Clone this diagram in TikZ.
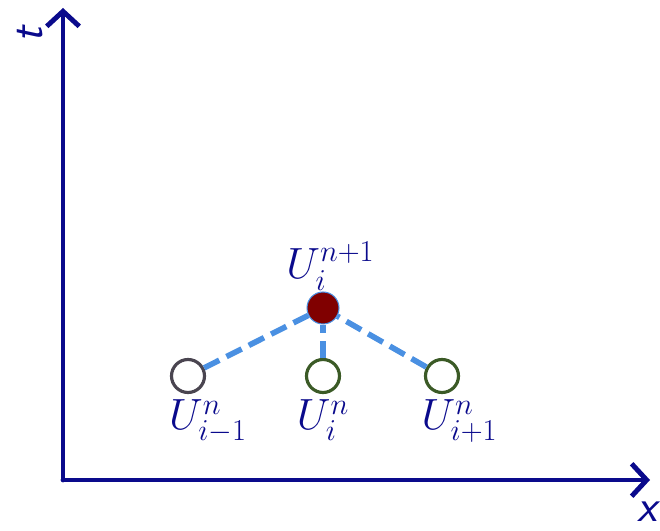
\documentclass[tikz,border=0pt]{standalone}
\usepackage{amsmath}
\usetikzlibrary{arrows.meta,
                positioning}
\definecolor{axisblue}{HTML}{0A0A8C}
\definecolor{dashblue}{HTML}{4A90E2}
\definecolor{darkred}{HTML}{800000}
\definecolor{darkgreen}{HTML}{3B5A26}
\definecolor{darkgrey}{HTML}{4A4550}

\begin{document}
\begin{tikzpicture}[thick,
  axis/.style={line width=2.8pt,axisblue,line cap=round,
    -{Straight Barb[length=3mm,width=6.5mm,line width=2.8pt]}},
  oldpt/.style={circle,draw,line width=1.8pt,fill=white,minimum size=0.66cm,inner sep=0pt},
  newpt/.style={circle,draw=dashblue,line width=0.6pt,fill=darkred,minimum size=0.64cm,inner sep=0pt},
  link/.style={dashblue,line width=3.2pt,dash pattern=on 0.34cm off 0.16cm},
  lbl/.style={text=axisblue,font=\fontsize{23}{27}\selectfont,inner sep=1pt}]
\useasboundingbox (0,0) rectangle (13.2,10.6);

\coordinate (O) at (1.26,1.0);
\coordinate (T) at (1.26,10.44);
\coordinate (X) at (13.0,1.0);
\draw[axis] (O)--(T);
\draw[axis] (O)--(X);
\node[lbl,font=\fontsize{26}{30}\selectfont\sffamily\itshape,rotate=90] (tlab) at (0.6,9.9) {t};
\node[lbl,font=\fontsize{26}{30}\selectfont\sffamily\itshape] (xlab) at (12.95,0.36) {x};

% points of the stencil
\node[newpt] (up) at (6.46,4.44) {};
\node[oldpt,draw=darkgrey]  (left)  at (3.76,3.08) {};
\node[oldpt,draw=darkgreen] (mid)   at (6.46,3.08) {};
\node[oldpt,draw=darkgreen] (right) at (8.84,3.08) {};

\draw[link] (left)--(up);
\draw[link] (mid)--(up);
\draw[link] (right)--(up);

\node[lbl,above=-1pt of up,xshift=0.15cm] (uplab) {$U_i^{n+1}$};
\node[lbl,below=2pt of left,xshift=0.4cm] (leftlab) {$U_{i-1}^n$};
\node[lbl,below=2pt of mid] (midlab) {$U_i^n$};
\node[lbl,below=2pt of right,xshift=0.35cm] (rightlab) {$U_{i+1}^n$};

\end{tikzpicture}
\end{document}
